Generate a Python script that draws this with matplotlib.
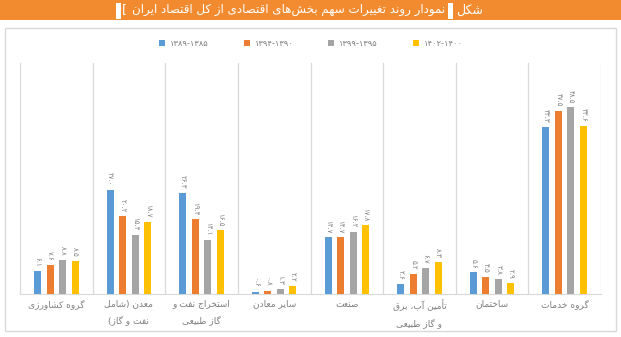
import numpy as np
from matplotlib import pyplot as plt
from matplotlib.patches import Rectangle

# sector shares of the economy (percent), four periods
categories = [
    "گروه کشاورزی",
    "معدن (شامل\nنفت و گاز)",
    "استخراج نفت و\nگاز طبیعی",
    "سایر معادن",
    "صنعت",
    "تأمین آب، برق\nو گاز طبیعی",
    "ساختمان",
    "گروه خدمات",
]
periods = ["۱۳۸۹-۱۳۸۵", "۱۳۹۴-۱۳۹۰", "۱۳۹۹-۱۳۹۵", "۱۴۰۲-۱۴۰۰"]
p1385_1389 = [6.1, 27.0, 26.3, 0.6, 14.7, 2.6, 5.6, 43.3]
p1390_1394 = [7.6, 20.2, 19.4, 0.8, 14.7, 5.2, 4.5, 47.5]
p1395_1399 = [8.8, 15.4, 14.1, 1.3, 16.2, 6.7, 3.8, 48.5]
p1400_1402 = [8.5, 18.7, 16.5, 2.2, 17.8, 8.3, 2.9, 43.6]

title = "نمودار روند تغییرات سهم بخش\u200cهای اقتصادی از کل اقتصاد ایران"
fig_word = "شکل"

colors = ["#5B9BD5", "#ED7D31", "#A5A5A5", "#FFC000"]

# minimal Persian shaping (matplotlib has no RTL/joining support)
FORMS = {
    'ا': '\uFE8D\uFE8E', 'آ': '\uFE81\uFE82', 'أ': '\uFE83\uFE84',
    'د': '\uFEA9\uFEAA', 'ذ': '\uFEAB\uFEAC', 'ر': '\uFEAD\uFEAE',
    'ز': '\uFEAF\uFEB0', 'ژ': '\uFB8A\uFB8B', 'و': '\uFEED\uFEEE',
    'ب': '\uFE8F\uFE90\uFE91\uFE92', 'پ': '\uFB56\uFB57\uFB58\uFB59',
    'ت': '\uFE95\uFE96\uFE97\uFE98', 'ث': '\uFE99\uFE9A\uFE9B\uFE9C',
    'ج': '\uFE9D\uFE9E\uFE9F\uFEA0', 'چ': '\uFB7A\uFB7B\uFB7C\uFB7D',
    'ح': '\uFEA1\uFEA2\uFEA3\uFEA4', 'خ': '\uFEA5\uFEA6\uFEA7\uFEA8',
    'س': '\uFEB1\uFEB2\uFEB3\uFEB4', 'ش': '\uFEB5\uFEB6\uFEB7\uFEB8',
    'ص': '\uFEB9\uFEBA\uFEBB\uFEBC', 'ض': '\uFEBD\uFEBE\uFEBF\uFEC0',
    'ط': '\uFEC1\uFEC2\uFEC3\uFEC4', 'ظ': '\uFEC5\uFEC6\uFEC7\uFEC8',
    'ع': '\uFEC9\uFECA\uFECB\uFECC', 'غ': '\uFECD\uFECE\uFECF\uFED0',
    'ف': '\uFED1\uFED2\uFED3\uFED4', 'ق': '\uFED5\uFED6\uFED7\uFED8',
    'ک': '\uFB8E\uFB8F\uFB90\uFB91', 'گ': '\uFB92\uFB93\uFB94\uFB95',
    'ل': '\uFEDD\uFEDE\uFEDF\uFEE0', 'م': '\uFEE1\uFEE2\uFEE3\uFEE4',
    'ن': '\uFEE5\uFEE6\uFEE7\uFEE8', 'ه': '\uFEE9\uFEEA\uFEEB\uFEEC',
    'ی': '\uFBFC\uFBFD\uFBFE\uFBFF',
}


def shape_line(s):
    out = []
    for i, c in enumerate(s):
        f = FORMS.get(c)
        if f is None:
            out.append(c)
            continue
        prev = s[i - 1] if i > 0 else ''
        nxt = s[i + 1] if i < len(s) - 1 else ''
        jp = prev in FORMS and len(FORMS[prev]) == 4
        jn = nxt in FORMS and len(f) == 4
        if jp and jn:
            out.append(f[3])
        elif jp:
            out.append(f[1])
        elif jn:
            out.append(f[2])
        else:
            out.append(f[0])
    t = ''.join(out).replace('\u200c', '')[::-1]
    return t.translate(str.maketrans('()[]', ')(]['))


def shape(s):
    return '\n'.join(shape_line(l) for l in s.split('\n'))


def fa_num(v):
    return f"{v:.1f}".translate(str.maketrans('0123456789', '۰۱۲۳۴۵۶۷۸۹'))


W, H = 621, 337
fig = plt.figure(figsize=(W / 100, H / 100), dpi=100)
fig.patch.set_facecolor('white')

# header bar
fig.patches.append(Rectangle((0, 1 - 20 / H), 1, 20 / H, transform=fig.transFigure,
                             facecolor='#F28A30', edgecolor='none', zorder=0))
fig.patches.append(Rectangle((448 / W, 1 - 19 / H), 5 / W, 16 / H, transform=fig.transFigure,
                             facecolor='white', edgecolor='none', zorder=1))
fig.text(470 / W, 1 - 10 / H, shape(fig_word), color='white', fontsize=9,
         ha='center', va='center')
t = fig.text(445 / W, 1 - 10 / H, shape(title), color='white', fontsize=8.6,
             ha='right', va='center')

# place the "[" and the blank number box just left of the title
fig.canvas.draw()
left = t.get_window_extent().x0
fig.text((left - 5) / W, 1 - 10 / H, '[', color='white', fontsize=9, ha='right', va='center')
fig.patches.append(Rectangle(((left - 16) / W, 1 - 19 / H), 5 / W, 16 / H,
                             transform=fig.transFigure, facecolor='white',
                             edgecolor='none', zorder=1))

# chart frame
fig.patches.append(Rectangle((5 / W, 1 - 331 / H), 611 / W, 303 / H, transform=fig.transFigure,
                             facecolor='none', edgecolor='#D9D9D9', lw=1, zorder=1))

ax = fig.add_axes([20 / W, 1 - 294 / H, 581 / W, 231 / H])
x = np.arange(len(categories))
series = [p1385_1389, p1390_1394, p1395_1399, p1400_1402]
step, width = 0.172, 0.096
for k, (vals, col, lab) in enumerate(zip(series, colors, periods)):
    pos = x + (k - 1.5) * step
    bars = ax.bar(pos, vals, width=width, color=col, label=lab, zorder=3)
    for b, v in zip(bars, vals):
        ax.annotate(fa_num(v), (b.get_x() + b.get_width() / 2, v),
                    xytext=(0, 3), textcoords='offset points', rotation=-90,
                    ha='center', va='bottom', fontsize=5, color='#7F7F7F')

for i in range(len(categories) + 1):
    ax.axvline(i - 0.5, color='#D9D9D9', lw=0.9, zorder=1)

ax.set_xlim(-0.5, len(categories) - 0.5)
ax.set_ylim(0, 60)
ax.set_yticks([])
ax.set_xticks(x)
ax.set_xticklabels([shape(c) for c in categories], fontsize=6.5, color='#7F7F7F',
                   linespacing=1.9)
ax.tick_params(axis='x', length=0, pad=4)
for s in ['top', 'left', 'right']:
    ax.spines[s].set_visible(False)
ax.spines['bottom'].set_color('#D9D9D9')

fig.legend(loc='center', bbox_to_anchor=(311 / W, 1 - 43 / H), ncol=4, frameon=False,
           fontsize=6, labelcolor='#7F7F7F', handlelength=0.7, handleheight=0.7,
           columnspacing=4.2, handletextpad=0.6)

fig.savefig('out.png', dpi=100)
